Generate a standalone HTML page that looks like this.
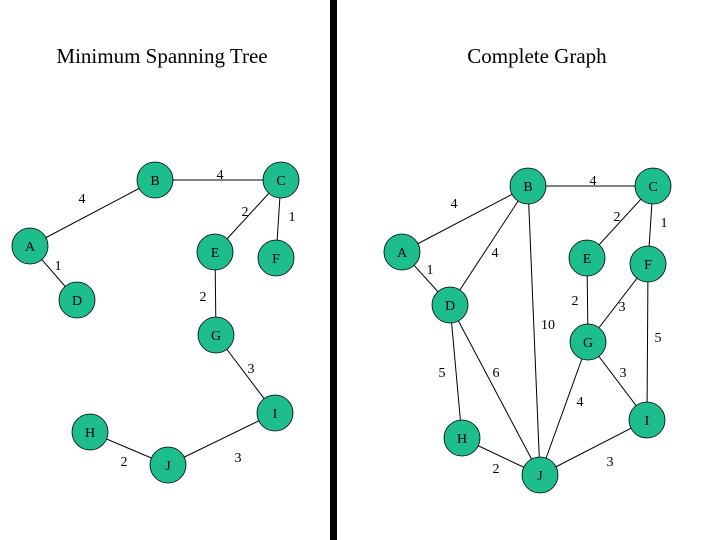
<html><body style="margin:0;background:#fff">
<svg width="720" height="540" xmlns="http://www.w3.org/2000/svg" font-family="Liberation Serif, serif">
<rect x="330" y="0" width="7" height="540" fill="#000"/>
<text x="162" y="63" font-size="21" text-anchor="middle">Minimum Spanning Tree</text>
<text x="537" y="63" font-size="21" text-anchor="middle">Complete Graph</text>
<g stroke="#000" stroke-width="1">
<line x1="155" y1="180" x2="281" y2="180"/><line x1="30" y1="246" x2="155" y2="180"/>
<line x1="30" y1="246" x2="77" y2="300"/><line x1="281" y1="180" x2="215" y2="252"/>
<line x1="281" y1="180" x2="276" y2="258"/><line x1="215" y1="252" x2="216" y2="335"/>
<line x1="216" y1="335" x2="275" y2="413"/><line x1="90" y1="432" x2="168" y2="465"/>
<line x1="168" y1="465" x2="275" y2="413"/>
<line x1="528" y1="186" x2="653" y2="186"/><line x1="402" y1="252" x2="528" y2="186"/>
<line x1="402" y1="252" x2="450" y2="305"/><line x1="528" y1="186" x2="450" y2="305"/>
<line x1="528" y1="186" x2="540" y2="475"/><line x1="653" y1="186" x2="587" y2="258"/>
<line x1="653" y1="186" x2="648" y2="264"/><line x1="587" y1="258" x2="588" y2="342"/>
<line x1="648" y1="264" x2="588" y2="342"/><line x1="648" y1="264" x2="647" y2="420"/>
<line x1="450" y1="305" x2="462" y2="438"/><line x1="450" y1="305" x2="540" y2="475"/>
<line x1="588" y1="342" x2="647" y2="420"/><line x1="588" y1="342" x2="540" y2="475"/>
<line x1="462" y1="438" x2="540" y2="475"/><line x1="540" y1="475" x2="647" y2="420"/>
</g>
<g fill="#1dbd8d" stroke="#000" stroke-width="0.8">
<circle cx="155" cy="180" r="18"/><circle cx="281" cy="180" r="18"/><circle cx="30" cy="246" r="18"/>
<circle cx="215" cy="252" r="18"/><circle cx="276" cy="258" r="18"/><circle cx="77" cy="300" r="18"/>
<circle cx="216" cy="335" r="18"/><circle cx="275" cy="413" r="18"/><circle cx="90" cy="432" r="18"/>
<circle cx="168" cy="465" r="18"/>
<circle cx="528" cy="186" r="18"/><circle cx="653" cy="186" r="18"/><circle cx="402" cy="252" r="18"/>
<circle cx="587" cy="258" r="18"/><circle cx="648" cy="264" r="18"/><circle cx="450" cy="305" r="18"/>
<circle cx="588" cy="342" r="18"/><circle cx="647" cy="420" r="18"/><circle cx="462" cy="438" r="18"/>
<circle cx="540" cy="475" r="18"/>
</g>
<g font-size="14" text-anchor="middle">
<text x="155" y="185">B</text><text x="281" y="185">C</text><text x="30" y="251">A</text>
<text x="215" y="257">E</text><text x="276" y="263">F</text><text x="77" y="305">D</text>
<text x="216" y="340">G</text><text x="275" y="418">I</text><text x="90" y="437">H</text>
<text x="168" y="470">J</text>
<text x="528" y="191">B</text><text x="653" y="191">C</text><text x="402" y="257">A</text>
<text x="587" y="263">E</text><text x="648" y="269">F</text><text x="450" y="310">D</text>
<text x="588" y="347">G</text><text x="647" y="425">I</text><text x="462" y="443">H</text>
<text x="540" y="480">J</text>
<text x="220" y="179">4</text><text x="82" y="203">4</text><text x="58" y="270">1</text>
<text x="245" y="216">2</text><text x="292" y="221">1</text><text x="203" y="301">2</text>
<text x="251" y="373">3</text><text x="238" y="462">3</text><text x="124" y="466">2</text>
<text x="593" y="185">4</text><text x="454" y="208">4</text><text x="430" y="274">1</text>
<text x="495" y="257">4</text><text x="617" y="221">2</text><text x="664" y="227">1</text>
<text x="575" y="305">2</text><text x="622" y="311">3</text><text x="548" y="329">10</text>
<text x="658" y="342">5</text><text x="442" y="377">5</text><text x="496" y="377">6</text>
<text x="623" y="377">3</text><text x="580" y="406">4</text><text x="610" y="466">3</text>
<text x="496" y="473">2</text>
</g>
</svg>
</body></html>
